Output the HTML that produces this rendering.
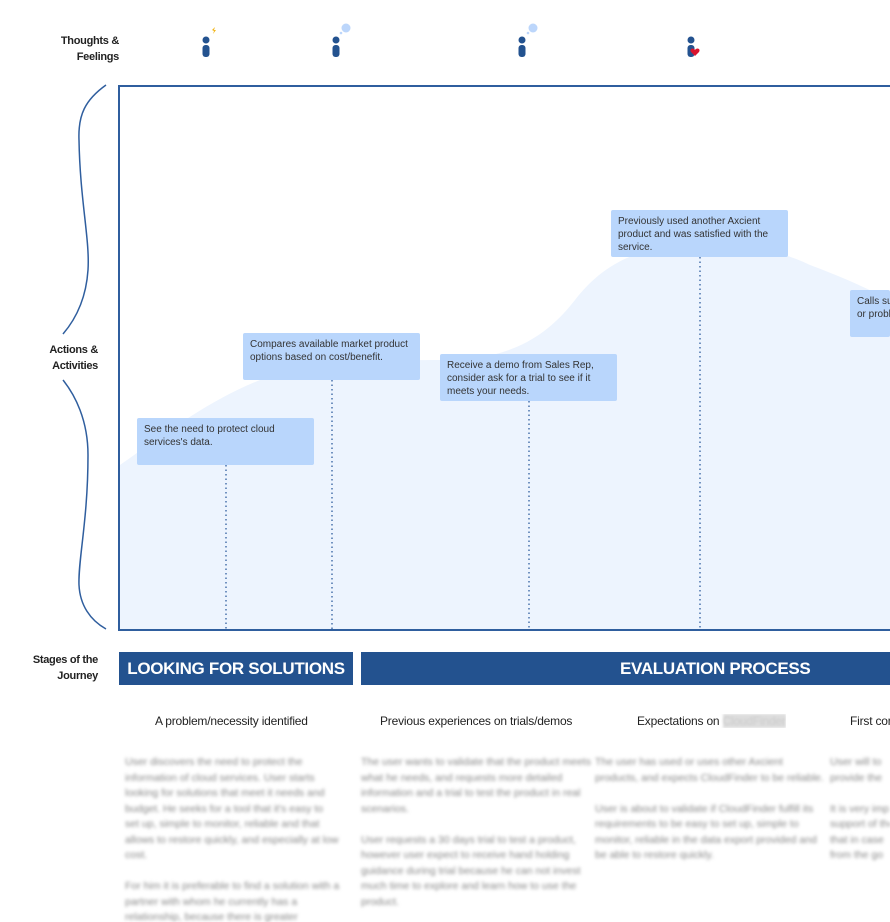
<!DOCTYPE html>
<html><head><style>
html,body{margin:0;padding:0}
body{width:890px;height:922px;overflow:hidden;background:#fff;font-family:"Liberation Sans",sans-serif}
#w{position:relative;width:890px;height:922px;overflow:hidden}
.a{position:absolute}
.lbl{position:absolute;font-size:11px;font-weight:bold;color:#222;text-align:right;line-height:16px;letter-spacing:-0.3px}
.card{position:absolute;background:#b9d6fc;border-radius:2px;font-size:10px;line-height:13px;color:#333;padding:5px 7px;box-sizing:border-box;overflow:hidden}
.stage{position:absolute;background:#23528f;color:#fff;font-weight:bold;font-size:17px;line-height:33px;top:652px;height:33px;letter-spacing:-0.3px;overflow:hidden;white-space:nowrap;box-sizing:border-box}
.sub{position:absolute;top:714px;font-size:12px;color:#222;white-space:nowrap;letter-spacing:-0.2px;overflow:hidden}
.blur{position:absolute;font-size:10.5px;line-height:15.5px;color:#888;filter:blur(1.6px);width:215px;overflow:hidden}
</style></head><body><div id="w">
<div class="lbl" style="left:40px;top:33px;width:79px">Thoughts &amp;<br>Feelings</div>
<div class="lbl" style="left:20px;top:342px;width:78px">Actions &amp;<br>Activities</div>
<div class="lbl" style="left:10px;top:652px;width:88px">Stages of the<br>Journey</div>
<svg class="a" style="left:0;top:0" width="890" height="922">
<path d="M106 85 C85 100 78 115 79 140 C80 200 90 240 88 270 C86 300 75 320 63 334" fill="none" stroke="#2f5e9e" stroke-width="1.5"/>
<path d="M63 380 C75 395 88 420 88 455 C88 520 78 560 79 585 C80 605 90 620 106 629" fill="none" stroke="#2f5e9e" stroke-width="1.5"/>
<path d="M120 465 C170 430 210 400 260 380 C300 365 360 360 440 360 C500 360 540 345 575 300 C600 268 630 250 680 245 C730 242 770 246 810 265 C850 280 870 290 890 300 L890 630 L120 630 Z" fill="#edf4fe"/>
<rect x="119" y="86" width="775" height="544" fill="none" stroke="#2f5e9e" stroke-width="2"/>
<g stroke="#2f5e9e" stroke-width="1.3" stroke-dasharray="1.5 3">
<line x1="226" y1="465" x2="226" y2="630"/><line x1="332" y1="380" x2="332" y2="630"/>
<line x1="529" y1="401" x2="529" y2="630"/><line x1="700" y1="257" x2="700" y2="630"/></g>
<g fill="#23528f">
<circle cx="206" cy="40" r="3.5"/><rect x="202.5" y="45" width="7" height="12" rx="3"/>
<circle cx="336" cy="40" r="3.5"/><rect x="332.5" y="45" width="7" height="12" rx="3"/>
<circle cx="522" cy="40" r="3.5"/><rect x="518.5" y="45" width="7" height="12" rx="3"/>
<circle cx="691" cy="40" r="3.5"/><rect x="687.5" y="45" width="7" height="12" rx="3"/></g>
<path d="M212 30 l3 -3 l-1 3 l2 0 l-3 4 l1 -3z" fill="#f2b61c"/>
<circle cx="346" cy="28" r="4.5" fill="#bcd6fb"/><circle cx="341" cy="33" r="1.3" fill="#bcd6fb"/>
<circle cx="533" cy="28" r="4.5" fill="#bcd6fb"/><circle cx="528" cy="33" r="1.3" fill="#bcd6fb"/>
<path d="M695 50 c-2 -3 -6 -1 -4 2 l4 4 l4 -4 c2 -3 -2 -5 -4 -2z" fill="#d8122d"/>
</svg>
<div class="card" style="left:137px;top:418px;width:177px;height:47px">See the need to protect cloud services's data.</div>
<div class="card" style="left:243px;top:333px;width:177px;height:47px">Compares available market product options based on cost/benefit.</div>
<div class="card" style="left:440px;top:354px;width:177px;height:47px">Receive a demo from Sales Rep, consider ask for a trial to see if it meets your needs.</div>
<div class="card" style="left:611px;top:210px;width:177px;height:47px">Previously used another Axcient product and was satisfied with the service.</div>
<div class="card" style="left:850px;top:290px;width:40px;height:47px;padding-right:0;white-space:nowrap">Calls support<br>or problems</div>
<div class="stage" style="left:119px;width:234px;text-align:center">LOOKING FOR SOLUTIONS</div>
<div class="stage" style="left:361px;width:529px;padding-left:259px">EVALUATION PROCESS</div>
<div class="sub" style="left:155px">A problem/necessity identified</div>
<div class="sub" style="left:380px">Previous experiences on trials/demos</div>
<div class="sub" style="left:637px">Expectations on <span style="background:#ddd;color:#ccc;filter:blur(1px)">CloudFinder</span></div>
<div class="sub" style="left:850px;width:40px">First contact</div>
<div class="blur" style="left:125px;top:755px">User discovers the need to protect the information of cloud services. User starts looking for solutions that meet it needs and budget. He seeks for a tool that it's easy to set up, simple to monitor, reliable and that allows to restore quickly, and especially at low cost.<br><br>For him it is preferable to find a solution with a partner with whom he currently has a relationship, because there is greater</div>
<div class="blur" style="left:361px;top:755px;width:230px">The user wants to validate that the product meets what he needs, and requests more detailed information and a trial to test the product in real scenarios.<br><br>User requests a 30 days trial to test a product, however user expect to receive hand holding guidance during trial because he can not invest much time to explore and learn how to use the product.</div>
<div class="blur" style="left:595px;top:755px;width:230px">The user has used or uses other Axcient products, and expects CloudFinder to be reliable.<br><br>User is about to validate if CloudFinder fulfill its requirements to be easy to set up, simple to monitor, reliable in the data export provided and be able to restore quickly.</div>
<div class="blur" style="left:830px;top:755px;width:60px;white-space:nowrap">User will to<br>provide the<br><br>It is very imp<br>support of the<br>that in case<br>from the go</div>
</div></body></html>
